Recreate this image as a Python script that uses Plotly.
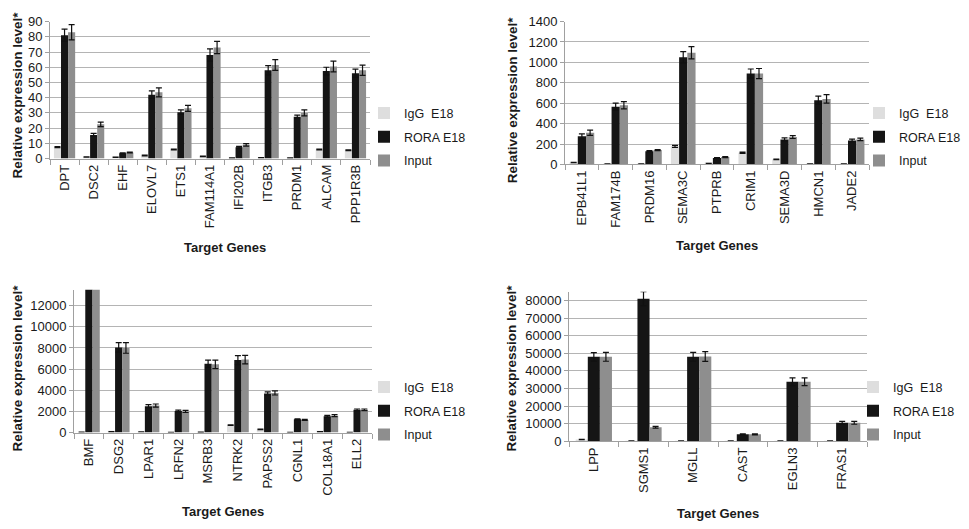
import plotly.graph_objects as go

W, H = 969, 529

# ---------------- data ----------------
genes_a = ["DPT", "DSC2", "EHF", "ELOVL7", "ETS1", "FAM114A1", "IFI202B", "ITGB3", "PRDM1", "ALCAM", "PPP1R3B"]
igg_a = [7.5, 1, 0.8, 2, 6, 1.5, 0.3, 0.5, 0.3, 6, 5.5]
rora_a = [81, 15.5, 3.5, 42, 30.5, 68, 7.5, 58, 27.5, 57.5, 56]
input_a = [83, 22.5, 4, 43.5, 33, 73, 9, 61.5, 30, 60.5, 58]
igg_err_a = [0.3, 0.1, 0.1, 0.2, 0.3, 0.2, 0.1, 0.1, 0.1, 0.3, 0.3]
rora_err_a = [4, 1, 0.3, 2.5, 1.5, 4, 0.5, 3, 1, 2.5, 2.7]
input_err_a = [5, 1.5, 0.3, 3, 2, 4, 0.8, 3.5, 2, 3.5, 3.4]

genes_b = ["EPB41L1", "FAM174B", "PRDM16", "SEMA3C", "PTPRB", "CRIM1", "SEMA3D", "HMCN1", "JADE2"]
igg_b = [18, 5, 5, 177, 10, 115, 50, 5, 5]
rora_b = [275, 565, 130, 1050, 63, 890, 245, 630, 235]
input_b = [310, 580, 140, 1095, 72, 890, 268, 642, 245]
igg_err_b = [2, 1, 1, 10, 1, 6, 3, 1, 1]
rora_err_b = [25, 35, 6, 55, 4, 45, 15, 40, 12]
input_err_b = [25, 35, 5, 60, 5, 50, 14, 42, 12]

genes_c = ["BMF", "DSG2", "LPAR1", "LRFN2", "MSRB3", "NTRK2", "PAPSS2", "CGNL1", "COL18A1", "ELL2"]
igg_c = [50, 80, 60, 20, 30, 700, 300, 10, 80, 10]
rora_c = [15000, 8050, 2500, 2050, 6500, 6850, 3700, 1250, 1550, 2150]
input_c = [15000, 8000, 2550, 2000, 6450, 6900, 3750, 1200, 1600, 2150]
igg_err_c = [5, 8, 6, 3, 4, 30, 20, 2, 8, 2]
rora_err_c = [0, 450, 150, 80, 350, 420, 150, 50, 80, 80]
input_err_c = [0, 500, 150, 100, 400, 400, 200, 50, 100, 80]

genes_d = ["LPP", "SGMS1", "MGLL", "CAST", "EGLN3", "FRAS1"]
igg_d = [1000, 200, 300, 200, 300, 200]
rora_d = [48000, 81000, 48000, 4000, 33800, 10500]
input_d = [48000, 8000, 48200, 4000, 33800, 10500]
igg_err_d = [80, 20, 20, 20, 20, 20]
rora_err_d = [2400, 4000, 2500, 300, 2200, 800]
input_err_d = [2500, 500, 2800, 300, 2200, 800]

series_names = ["IgG  E18", "RORA E18", "Input"]
series_colors = ["#dedede", "#151515", "#8e8e8e"]

panels = [
    dict(genes=genes_a, vals=[igg_a, rora_a, input_a], errs=[igg_err_a, rora_err_a, input_err_a],
         px=(50, 370), py=(15, 156), rng=[0, 90], dtick=10),
    dict(genes=genes_b, vals=[igg_b, rora_b, input_b], errs=[igg_err_b, rora_err_b, input_err_b],
         px=(565, 869), py=(15, 162), rng=[0, 1400], dtick=200),
    dict(genes=genes_c, vals=[igg_c, rora_c, input_c], errs=[igg_err_c, rora_err_c, input_err_c],
         px=(74, 372), py=(291, 438), rng=[0, 13500], dtick=2000),
    dict(genes=genes_d, vals=[igg_d, rora_d, input_d], errs=[igg_err_d, rora_err_d, input_err_d],
         px=(569, 867), py=(293, 447), rng=[0, 85000], dtick=10000),
]

legend_pos = [(364, 94), (859, 94), (364, 376), (853, 376)]
xtitle_pos = [(225, 248), (717, 245), (223, 519), (718, 521)]
ytitle_pos = [(17, 91), (512, 95), (17, 372), (511, 372)]

FONT = "Liberation Sans, Arial, sans-serif"
GRID = "#b4b4b4"
AX = "#a0a0a0"

fig = go.Figure()
layout = dict(
    width=W, height=H, margin=dict(l=0, r=0, t=0, b=0),
    paper_bgcolor="white", plot_bgcolor="white",
    barmode="group", bargap=0.27, bargroupgap=0,
    font=dict(family=FONT, color="#1a1a1a", size=12),
    annotations=[],
)

for i, p in enumerate(panels):
    sfx = "" if i == 0 else str(i + 1)
    xa, ya = "x" + sfx, "y" + sfx
    lg = "legend" + sfx
    for k in range(3):
        fig.add_trace(go.Bar(
            x=p["genes"], y=p["vals"][k], name=series_names[k],
            marker=dict(color=series_colors[k], line=dict(width=0)),
            error_y=dict(type="data", array=p["errs"][k], color="#111111", thickness=1.2, width=3),
            xaxis=xa, yaxis=ya, legend=lg, legendgroup=f"g{i}{k}",
        ))
    x0, x1 = p["px"]
    y0, y1 = p["py"]
    layout["xaxis" + sfx] = dict(
        domain=[x0 / W, x1 / W], anchor=ya, type="category",
        showline=True, linecolor=AX, linewidth=1, ticks="outside", tickson="boundaries",
        ticklen=5, tickcolor=AX, tickangle=-90, showgrid=False,
        tickfont=dict(size=13, family=FONT, color="#1a1a1a"),
    )
    layout["yaxis" + sfx] = dict(
        domain=[1 - y1 / H, 1 - y0 / H], anchor=xa, range=p["rng"], dtick=p["dtick"],
        tickformat="d",
        showline=True, linecolor=AX, linewidth=1, ticks="outside", ticklen=4, tickcolor=AX,
        showgrid=True, gridcolor=GRID, gridwidth=1, zeroline=False,
        tickfont=dict(size=13, family=FONT, color="#1a1a1a"),
    )
    lx, ly = legend_pos[i]
    layout[lg] = dict(
        x=lx / W, y=1 - ly / H, xanchor="left", yanchor="top",
        traceorder="grouped", tracegroupgap=4.5, itemwidth=30,
        font=dict(size=12.5, family=FONT, color="#1a1a1a"), bgcolor="rgba(0,0,0,0)",
    )
    tx, ty = xtitle_pos[i]
    layout["annotations"].append(dict(
        text="<b>Target Genes</b>", x=tx / W, y=1 - ty / H, xref="paper", yref="paper",
        showarrow=False, xanchor="center", yanchor="middle",
        font=dict(size=13, family=FONT, color="#1a1a1a"),
    ))
    vx, vy = ytitle_pos[i]
    layout["annotations"].append(dict(
        text="<b>Relative expression level*</b>", x=vx / W, y=1 - vy / H, xref="paper", yref="paper",
        showarrow=False, xanchor="center", yanchor="middle", textangle=-90,
        font=dict(size=13.5, family=FONT, color="#1a1a1a"),
    ))

fig.update_layout(**layout)
fig.write_html("out.html")
